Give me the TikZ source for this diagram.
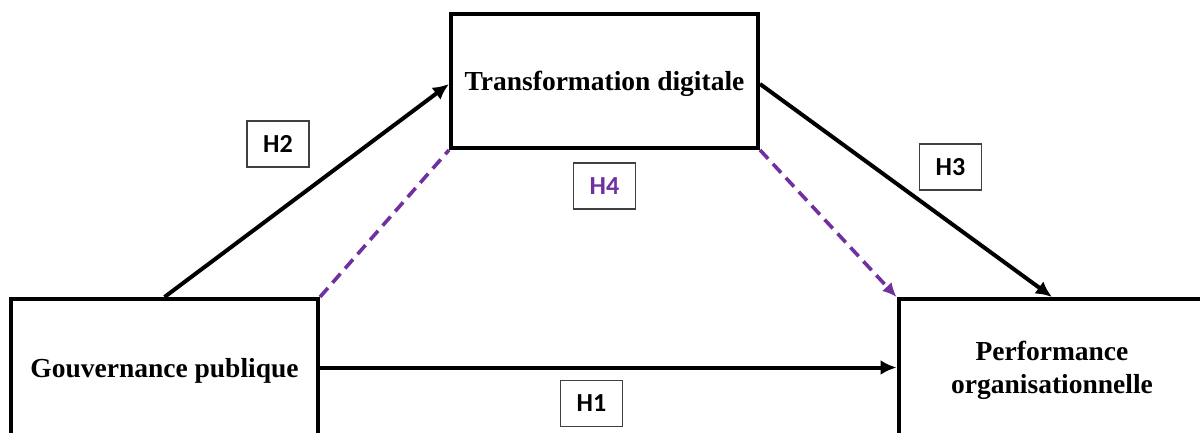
\documentclass[tikz,border=0pt]{standalone}
\usepackage{fontspec}
\setmainfont{Liberation Serif}
\newfontfamily\hlabfont{Carlito}
\usetikzlibrary{arrows.meta}
\definecolor{hpurple}{HTML}{7030A0}
\tikzset{
  concept/.style={draw=black, line width=4pt, fill=white, inner sep=0pt,
    minimum width=307pt, align=center, text depth=0pt,
    font=\fontsize{27.5}{33}\selectfont\bfseries},
  hbox/.style={draw=black!75, line width=1.4pt, fill=white, inner sep=0pt,
    minimum width=62pt, minimum height=46pt,
    font=\hlabfont\fontsize{26}{30}\selectfont\bfseries},
  link/.style={draw=black, line width=4pt, -{Latex[length=16pt,width=15pt]}},
  medlink/.style={draw=hpurple, line width=3.6pt, dash pattern=on 12pt off 7pt},
}
\begin{document}
\begin{tikzpicture}[x=1pt, y=-1pt]
  \useasboundingbox (0,0) rectangle (1200,432);
  \clip (0,0) rectangle (1200,432);

  % construct boxes
  \node[concept, minimum height=134pt] (td) at (604.5,81) {Transformation digitale};
  \node[concept, minimum height=137pt] (gp) at (164.5,367.5) {Gouvernance publique};
  \node[concept, minimum height=137pt] (pf) at (1052,367.5) {Performance\\organisationnelle};

  % direct effects
  \draw[link] (gp.north) -- ([yshift=-3pt]td.west);
  \draw[link] ([yshift=-3pt]td.east) -- (pf.north);
  \draw[link] (gp.east) -- (pf.west);

  % mediation path
  \draw[medlink] (gp.north east) -- (td.south west);
  \draw[medlink, -{Latex[length=14pt,width=13pt]}] (td.south east) -- (pf.north west);

  % hypothesis labels
  \node[hbox] (h2) at (278,144) {H2};
  \node[hbox, text=hpurple] (h4) at (604.5,186) {H4};
  \node[hbox] (h3) at (950.5,167) {H3};
  \node[hbox] (h1) at (591.5,403.5) {H1};
\end{tikzpicture}
\end{document}
